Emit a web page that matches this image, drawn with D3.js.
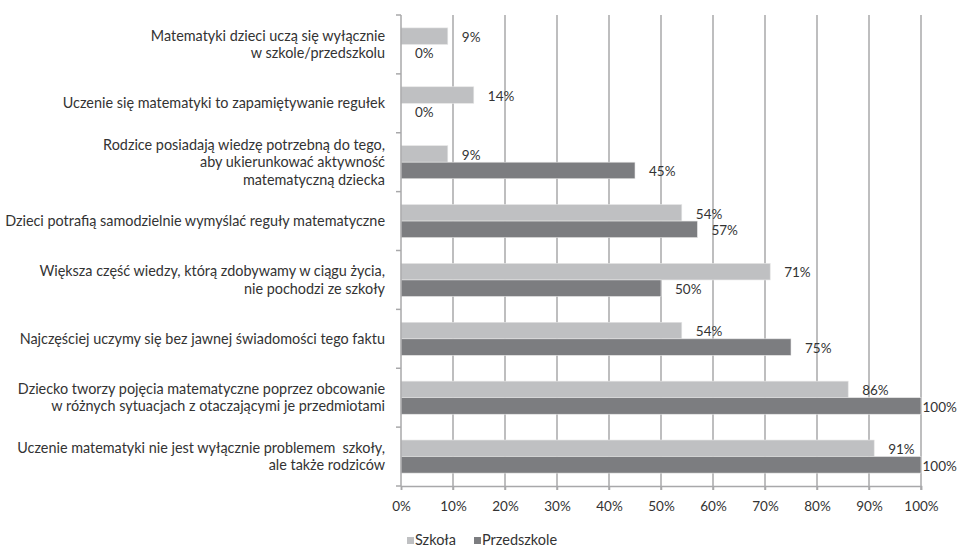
<!DOCTYPE html>
<html>
<head>
<meta charset="utf-8">
<script src="https://cdn.jsdelivr.net/npm/d3@7"></script>
<style>
  html, body { margin: 0; padding: 0; background: #fff; }
  svg { display: block; }
  text { font-family: Lato, "Open Sans", sans-serif; fill: #333; white-space: pre; }
</style>
</head>
<body>
<svg id="chart" width="957" height="549"></svg>
<script>
const categories = [
  ["Matematyki dzieci uczą się wyłącznie", "w szkole/przedszkolu"],
  ["Uczenie się matematyki to zapamiętywanie regułek"],
  ["Rodzice posiadają wiedzę potrzebną do tego,", "aby ukierunkować aktywność", "matematyczną dziecka"],
  ["Dzieci potrafią samodzielnie wymyślać reguły matematyczne"],
  ["Większa część wiedzy, którą zdobywamy w ciągu życia,", "nie pochodzi ze szkoły"],
  ["Najczęściej uczymy się bez jawnej świadomości tego faktu"],
  ["Dziecko tworzy pojęcia matematyczne poprzez obcowanie", "w różnych sytuacjach z otaczającymi je przedmiotami"],
  ["Uczenie matematyki nie jest wyłącznie problemem  szkoły,", "ale także rodziców"]
];
const seriesNames = ["Szkoła", "Przedszkole"];
const szkola      = [9, 14, 9, 54, 71, 54, 86, 91];
const przedszkole = [0, 0, 45, 57, 50, 75, 100, 100];
const tickValues = [0, 10, 20, 30, 40, 50, 60, 70, 80, 90, 100];
const colors = ["#bfc0c2", "#7c7d80"];

const svg = d3.select("#chart");
const pLeft = 401, pRight = 921, pTop = 15, pBottom = 486;

const x = d3.scaleLinear().domain([0, 100]).range([pLeft, pRight]);
const y = d3.scaleBand().domain(d3.range(categories.length)).range([pTop, pBottom]).padding(0);
const inner = d3.scaleBand().domain([0, 1]).range([0, y.bandwidth()]).paddingOuter(0.78).paddingInner(0);

// gridlines
svg.append("g").selectAll("line").data(tickValues.slice(1)).join("line")
  .attr("x1", d => x(d)).attr("x2", d => x(d))
  .attr("y1", pTop).attr("y2", pBottom + 4)
  .attr("stroke", "#a8a8aa").attr("stroke-width", 1.5);

// bars
const series = [szkola, przedszkole];
const barG = svg.append("g");
series.forEach((vals, si) => {
  barG.selectAll(null).data(vals).join("rect")
    .attr("x", x(0))
    .attr("y", (d, i) => y(i) + inner(si))
    .attr("width", d => x(d) - x(0))
    .attr("height", inner.bandwidth())
    .attr("fill", colors[si])
    .attr("stroke", "#e6e6e6").attr("stroke-width", 0.6);
});

// value labels
series.forEach((vals, si) => {
  svg.append("g").selectAll("text").data(vals).join("text")
    .attr("x", d => Math.min(x(d) + 14, x(100) + 1.5))
    .attr("y", (d, i) => y(i) + inner(si) + inner.bandwidth() / 2 + 1)
    .attr("dy", "0.35em")
    .attr("font-size", 13.5)
    .text(d => d + "%");
});

// y axis line and ticks
svg.append("line").attr("x1", pLeft).attr("x2", pLeft).attr("y1", pTop).attr("y2", pBottom)
  .attr("stroke", "#a8a8aa").attr("stroke-width", 1.5);
svg.append("g").selectAll("line").data(d3.range(categories.length + 1)).join("line")
  .attr("x1", pLeft - 5).attr("x2", pLeft)
  .attr("y1", i => pTop + i * y.step()).attr("y2", i => pTop + i * y.step())
  .attr("stroke", "#a8a8aa").attr("stroke-width", 1.5);

// x axis
const xAxis = d3.axisBottom(x).tickValues(tickValues).tickFormat(d => d + "%").tickSize(4).tickPadding(11);
const xg = svg.append("g").attr("transform", `translate(0,${pBottom})`).call(xAxis);
xg.select(".domain").attr("stroke", "#a8a8aa").attr("stroke-width", 1.5);
xg.selectAll(".tick line").attr("stroke", "#a8a8aa").attr("stroke-width", 1.5);
xg.selectAll(".tick text").attr("font-size", 13.5).attr("fill", "#333")
  .attr("font-family", "Lato, 'Open Sans', sans-serif");

// category labels
const lineH = 17.5;
const catG = svg.append("g");
categories.forEach((lines, i) => {
  const cy = y(i) + y.bandwidth() / 2;
  const t = catG.append("text").attr("text-anchor", "end").attr("font-size", 14.4);
  lines.forEach((ln, k) => {
    t.append("tspan").attr("x", 385)
      .attr("y", cy + (k - (lines.length - 1) / 2) * lineH)
      .attr("dy", "0.35em").text(ln);
  });
});

// legend
const legend = svg.append("g").attr("transform", "translate(407,540)");
const legX = [0, 67];
seriesNames.forEach((n, i) => {
  legend.append("rect").attr("x", legX[i]).attr("y", -3).attr("width", 7).attr("height", 7).attr("fill", colors[i]);
  legend.append("text").attr("x", legX[i] + 8).attr("y", 0).attr("dy", "0.35em").attr("font-size", 14.5).text(n);
});
</script>
</body>
</html>
